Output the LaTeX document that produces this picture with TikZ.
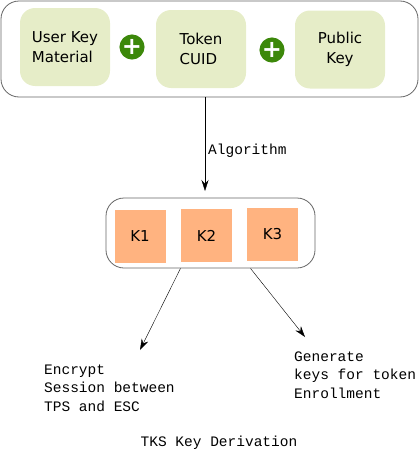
\documentclass[tikz,border=0pt]{standalone}
\usepackage{fontspec}
\setmainfont{DejaVu Sans}
\setmonofont{Liberation Mono}
\usetikzlibrary{arrows.meta,calc}
\definecolor{inputgreen}{RGB}{230,237,200}
\definecolor{plusgreen}{RGB}{60,136,10}
\definecolor{keysalmon}{RGB}{255,179,128}
\begin{document}
\begin{tikzpicture}[x=1pt,y=-1pt,
    group/.style ={draw=black!60, thick, rounded corners=18pt, minimum width=#1},
    input/.style ={fill=inputgreen, rounded corners=15pt, minimum width=90pt, minimum height=78pt,
                   align=center, font=\fontsize{15}{20}\selectfont},
    plus/.style ={circle, fill=plusgreen, text=white, inner sep=0pt, minimum size=24pt,
                  font=\fontsize{24}{24}\selectfont\bfseries},
    keybox/.style ={fill=keysalmon, minimum width=51pt, minimum height=53pt, font=\fontsize{15}{17}\selectfont},
    note/.style ={align=left, font=\fontsize{14.5}{18.5}\ttfamily, inner sep=0pt},
    >={Stealth[length=11pt,width=7pt]}]
   \useasboundingbox (0,0) rectangle (420,450);
   % inputs
   \node[group=417pt, minimum height=96pt] (inputs) at (209.5,49) {};
   \node[input, align=left] (user) at (65,47) {User Key\\Material};
   \node[input, align=left] (cuid) at (201,49) {Token\\CUID};
   \node[input] (pubkey) at (340,49.5) {Public\\Key};
   \node[plus] (plusA) at (132,47) {+};
   \node[plus] (plusB) at (272,50) {+};
   % derived keys
   \node[group=209pt, minimum height=70pt] (keys) at (210.5,233) {};
   \node[keybox] (kone)   at (140,236)   {K1};
   \node[keybox] (ktwo)   at (206.5,235.5) {K2};
   \node[keybox] (kthree) at (272.5,234.5) {K3};
   \coordinate (algoend) at (205,191);
   \draw[thin, ->] (inputs.south -| algoend) -- (algoend)
      node[pos=0.57, right=3pt, note] (algo) {Algorithm};
   % uses
   \coordinate (encend) at (140,350);
   \coordinate (genend) at (305,337);
   \draw[thin, ->] ($(keys.south)+(-30,0)$) -- (encend);
   \draw[thin, ->] ($(keys.south)+(40,0)$) -- (genend);
   \node[note, anchor=base west] (encrypt) at (44,411) {Encrypt\\Session between\\TPS and ESC};
   \node[note, anchor=base west] (generate) at (294,398) {Generate\\keys for token\\Enrollment};
   \node[note, anchor=base] (title) at (219,446) {TKS Key Derivation};
 \end{tikzpicture}
\end{document}
